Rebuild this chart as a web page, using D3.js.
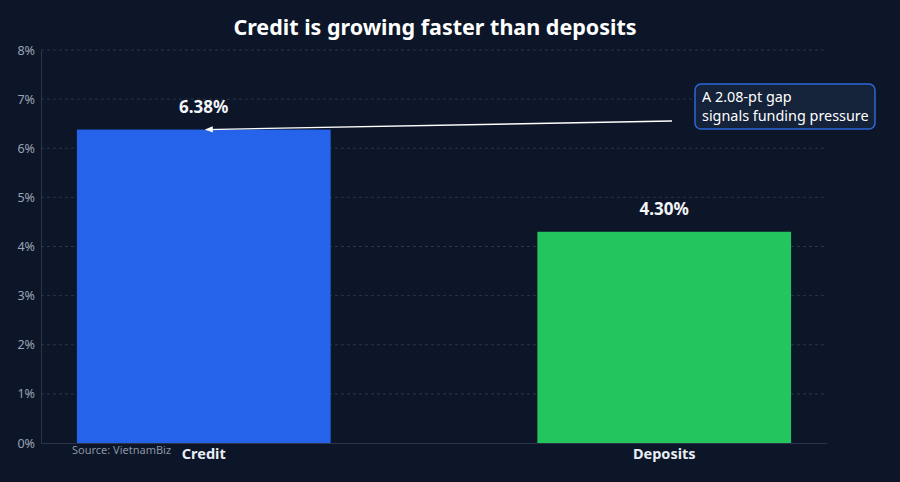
<!DOCTYPE html>
<html><head><meta charset="utf-8">
<script src="https://cdn.jsdelivr.net/npm/d3@7"></script>
<style>body{margin:0;background:#0c1628;}svg{display:block;font-family:"Noto Sans",sans-serif;}</style>
</head><body>
<svg id="c" width="900" height="482"></svg>
<script>
const categories = ["Credit", "Deposits"];
const values = [6.38, 4.30];
const colors = ["#2563eb", "#22c55e"];
const yTicks = [0,1,2,3,4,5,6,7,8];
const title = "Credit is growing faster than deposits";
const note = ["A 2.08-pt gap", "signals funding pressure"];
const source = "Source: VietnamBiz";

const svg = d3.select("#c");
svg.append("rect").attr("width",900).attr("height",482).attr("fill","#0c1628");
const m = {l:41, r:827, t:50, b:443};
const x = d3.scaleBand().domain(categories).range([m.l,m.r]).paddingInner(0.449).paddingOuter(0.078);
const y = d3.scaleLinear().domain([0,8]).range([m.b,m.t]);

// grid
svg.append("g").selectAll("line").data(yTicks.filter(d=>d>0)).join("line")
  .attr("x1",m.l).attr("x2",m.r).attr("y1",d=>y(d)).attr("y2",d=>y(d))
  .attr("stroke","#2a3547").attr("stroke-dasharray","3,3");

// y axis
const ya = svg.append("g").attr("transform",`translate(${m.l},0)`)
  .call(d3.axisLeft(y).tickValues(yTicks).tickFormat(d=>d+"%").tickSize(0).tickPadding(6));
ya.select(".domain").attr("stroke","#2a3547");
ya.selectAll("text").attr("fill","#9aa3b1").attr("font-size",12.5).attr("font-family","Noto Sans");

// bars
svg.append("g").selectAll("rect").data(categories).join("rect")
  .attr("x",d=>x(d)).attr("width",x.bandwidth())
  .attr("y",(d,i)=>y(values[i])).attr("height",(d,i)=>y(0)-y(values[i]))
  .attr("fill",(d,i)=>colors[i]);

// x axis
const xa = svg.append("g").attr("transform",`translate(0,${m.b})`)
  .call(d3.axisBottom(x).tickSize(0).tickPadding(6));
xa.select(".domain").attr("stroke","#2a3547");
xa.selectAll("text").attr("fill","#e8edf3").attr("font-size",14.5).attr("font-weight","bold").attr("font-family","Noto Sans");

// value labels
svg.append("g").selectAll("text").data(categories).join("text")
  .attr("x",d=>x(d)+x.bandwidth()/2).attr("y",(d,i)=>y(values[i])-17)
  .attr("text-anchor","middle").attr("fill","#f3f5f8").attr("font-size",17).attr("font-weight","bold")
  .text((d,i)=>values[i].toFixed(2)+"%");

// title
svg.append("text").attr("x",435).attr("y",35).attr("text-anchor","middle")
  .attr("fill","#ffffff").attr("font-size",21.5).attr("font-weight","bold").text(title);

// source
svg.append("text").attr("x",72).attr("y",454).attr("fill","#8a93a2").attr("font-size",11).text(source);

// annotation
const defs = svg.append("defs");
defs.append("marker").attr("id","ah").attr("viewBox","0 0 10 10").attr("refX",9).attr("refY",5)
  .attr("markerWidth",6).attr("markerHeight",6).attr("orient","auto-start-reverse")
  .append("path").attr("d","M0,1 L10,5 L0,9 z").attr("fill","#ffffff");
const ax = x("Credit")+x.bandwidth()/2 + 2, ay = y(values[0]);
svg.append("line").attr("x1",672).attr("y1",121).attr("x2",ax).attr("y2",ay)
  .attr("stroke","#ffffff").attr("stroke-width",1.3).attr("marker-end","url(#ah)");
svg.append("rect").attr("x",695).attr("y",84).attr("width",180).attr("height",45).attr("rx",6)
  .attr("fill","#14223a").attr("stroke","#2b67d6").attr("stroke-width",1.5);
svg.append("g").selectAll("text").data(note).join("text")
  .attr("x",702).attr("y",(d,i)=>102+i*19).attr("fill","#ffffff").attr("font-size",14.4).text(d=>d);
</script>
</body></html>
